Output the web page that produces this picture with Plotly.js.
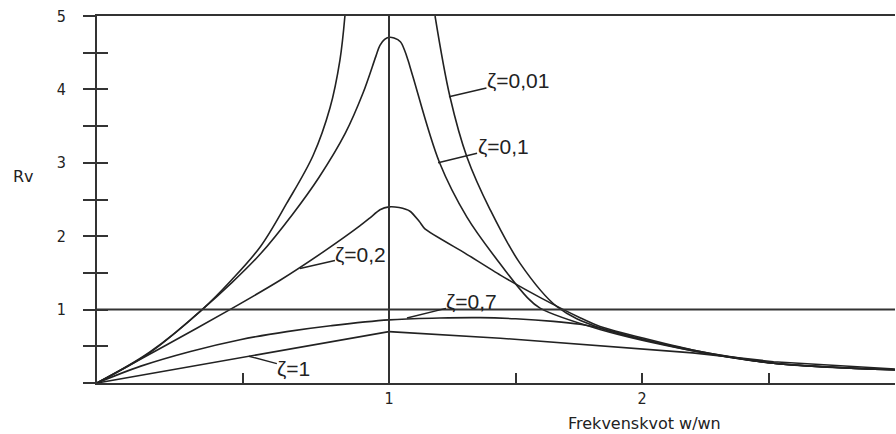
<!DOCTYPE html>
<html>
<head>
<meta charset="utf-8">
<script src="https://cdn.plot.ly/plotly-3.0.1.min.js"></script>
<style>
  html, body { margin: 0; padding: 0; background: #fff; }
  #chart { width: 896px; height: 434px; }
</style>
</head>
<body>
<div id="chart"></div>
<script>
// Frequency response curves Rv against frequency ratio w/wn, one per damping ratio ζ.
const zeta001X = [0, 0.18, 0.36, 0.46, 0.56, 0.65, 0.74, 0.798, 0.832, 0.849, 1.182, 1.241, 1.308, 1.40, 1.518, 1.664, 1.834, 2.2, 2.52, 3.0];
const zeta001Y = [0, 0.42, 1.0, 1.40, 1.86, 2.45, 3.10, 3.75, 4.40, 5.0, 5.0, 3.90, 3.08, 2.36, 1.63, 1.04, 0.75, 0.45, 0.27, 0.18];

const zeta01X = [0, 0.18, 0.36, 0.46, 0.56, 0.67, 0.76, 0.85, 0.911, 0.955, 0.969, 0.985, 1.0, 1.02, 1.045, 1.063, 1.075, 1.095, 1.20, 1.308, 1.427, 1.545, 1.597, 1.834, 2.2, 2.52, 3.0];
const zeta01Y = [0, 0.41, 1.0, 1.36, 1.76, 2.30, 2.80, 3.40, 3.95, 4.45, 4.60, 4.68, 4.71, 4.70, 4.65, 4.52, 4.40, 4.17, 3.0, 2.26, 1.68, 1.17, 1.02, 0.73, 0.44, 0.27, 0.18];

const zeta02X = [0, 0.23, 0.455, 0.627, 0.78, 0.90, 0.935, 0.969, 1.0, 1.04, 1.083, 1.12, 1.142, 1.30, 1.44, 1.60, 1.755, 1.834, 2.2, 2.52, 3.0];
const zeta02Y = [0, 0.50, 1.0, 1.40, 1.80, 2.14, 2.25, 2.36, 2.40, 2.39, 2.34, 2.20, 2.10, 1.77, 1.47, 1.16, 0.89, 0.77, 0.45, 0.27, 0.18];

const zeta07X = [0, 0.15, 0.32, 0.49, 0.65, 0.80, 1.0, 1.2, 1.36, 1.5, 1.65, 1.755, 1.834, 2.0, 2.2, 2.52, 3.0];
const zeta07Y = [0, 0.23, 0.43, 0.59, 0.70, 0.78, 0.86, 0.885, 0.89, 0.875, 0.84, 0.80, 0.75, 0.60, 0.44, 0.27, 0.18];

const zeta1X = [0, 0.5, 1.0, 1.44, 2.2, 2.52, 3.0];
const zeta1Y = [0, 0.35, 0.70, 0.61, 0.41, 0.29, 0.19];

const yTickVals = [0, 0.5, 1, 1.5, 2, 2.5, 3, 3.5, 4, 4.5, 5];
const yTickText = ['', '', '1', '', '2', '', '3', '', '4', '', '5'];
const xTickVals = [1, 1.5, 2, 2.5, 3];
const xTickText = ['1', '', '2', '', '3'];

const INK = '#222';
const AXIS = '#333';
const labelFont = { family: 'Liberation Sans, Arial, sans-serif', size: 21, color: INK };
const tickFont = { family: 'DejaVu Sans Condensed, DejaVu Sans, sans-serif', size: 16, color: INK };
const titleFont = { family: 'DejaVu Sans, sans-serif', size: 16, color: INK };

// The scale below w/wn = 1 is wider than above it, so the x range is drawn
// on two joined axes: [0, 1] on x and [1, 3] on x2.
const split = 292 / 798;

// Points on one side of w/wn = 1; a continuous curve also keeps its first
// point across the seam (clipped away) so the spline runs on without a kink.
function part(xs, ys, left, continuous) {
  const px = [], py = [];
  xs.forEach((x, i) => {
    if (left ? x <= 1 : x >= 1) { px.push(x); py.push(ys[i]); }
  });
  if (continuous) {
    if (left) {
      const j = xs.findIndex(x => x > 1);
      if (j >= 0) { px.push(xs[j]); py.push(ys[j]); }
    } else {
      let j = -1;
      xs.forEach((x, i) => { if (x < 1) j = i; });
      if (j >= 0) { px.unshift(xs[j]); py.unshift(ys[j]); }
    }
  }
  return { x: px, y: py };
}

function curve(xs, ys, shape, smoothing, continuous) {
  const line = { color: INK, width: 1.6, shape: shape };
  if (shape === 'spline') line.smoothing = smoothing;
  const a = part(xs, ys, true, continuous), b = part(xs, ys, false, continuous);
  return [
    { x: a.x, y: a.y, xaxis: 'x', yaxis: 'y', mode: 'lines', line: line, hoverinfo: 'skip' },
    { x: b.x, y: b.y, xaxis: 'x2', yaxis: 'y', mode: 'lines', line: line, hoverinfo: 'skip' }
  ];
}

const traces = [].concat(
  curve(zeta001X, zeta001Y, 'spline', 1.0, false),
  curve(zeta01X, zeta01Y, 'spline', 1.0, true),
  curve(zeta02X, zeta02Y, 'spline', 0.6, true),
  curve(zeta07X, zeta07Y, 'spline', 1.0, true),
  curve(zeta1X, zeta1Y, 'linear', 0, false)
);
// the inner tick marks live on an overlaid copy of the y axis
traces[traces.length - 2].yaxis = 'y2';

function leader(text, xref, x, y, ax, ay) {
  return {
    text: text, xref: xref, yref: 'y', x: x, y: y, ax: ax, ay: ay,
    showarrow: true, arrowhead: 0, arrowwidth: 1.4, arrowcolor: INK,
    standoff: 0, startstandoff: 0, borderpad: 0, font: labelFont
  };
}

const layout = {
  width: 896, height: 434,
  margin: { l: 97, r: 1, t: 16, b: 51 },
  paper_bgcolor: '#fff', plot_bgcolor: '#fff',
  showlegend: false,
  xaxis: {
    domain: [0, split], range: [0, 1], anchor: 'y',
    tickvals: [0.5], ticktext: [''], ticks: 'inside', ticklen: 10, tickwidth: 2, tickcolor: AXIS,
    showline: true, linecolor: AXIS, linewidth: 2, mirror: true,
    showgrid: false, zeroline: false, fixedrange: true
  },
  xaxis2: {
    domain: [split, 1], range: [1, 3], anchor: 'y',
    tickvals: xTickVals, ticktext: xTickText, ticks: 'inside', ticklen: 10, tickwidth: 2, tickcolor: AXIS,
    tickfont: tickFont,
    showline: true, linecolor: AXIS, linewidth: 2, mirror: true,
    showgrid: false, zeroline: false, fixedrange: true
  },
  yaxis: {
    range: [0, 5], anchor: 'x',
    tickvals: yTickVals, ticktext: yTickText, ticks: 'outside', ticklen: 12, tickwidth: 2, tickcolor: AXIS,
    tickfont: tickFont, ticklabelstandoff: 14,
    showline: true, linecolor: AXIS, linewidth: 2,
    showgrid: false, zeroline: false, fixedrange: true
  },
  yaxis2: {
    overlaying: 'y', anchor: 'x', side: 'left', range: [0, 5],
    tickvals: yTickVals, ticks: 'inside', ticklen: 11, tickwidth: 2, tickcolor: AXIS,
    showticklabels: false, showline: false, showgrid: false, zeroline: false, fixedrange: true
  },
  shapes: [
    // reference lines at Rv = 1 and w/wn = 1
    { type: 'line', xref: 'paper', yref: 'y', x0: 0, x1: 1, y0: 1, y1: 1, line: { color: AXIS, width: 2 } },
    { type: 'line', xref: 'paper', yref: 'paper', x0: split, x1: split, y0: 0, y1: 1, line: { color: AXIS, width: 2 } }
  ],
  annotations: [
    leader('ζ=0,01', 'x2', 1.237, 3.90, 69, -16),
    leader('ζ=0,1', 'x2', 1.194, 3.0, 65, -16),
    leader('ζ=0,2', 'x', 0.695, 1.56, 61, -14),
    leader('ζ=0,7', 'x2', 1.071, 0.886, 65, -16),
    leader('ζ=1', 'x', 0.52, 0.365, 45, 12),
    { text: 'Rv', xref: 'paper', yref: 'y', x: 0, y: 2.81, xshift: -86, showarrow: false, font: titleFont },
    { text: 'Frekvenskvot w/wn', xref: 'x2', yref: 'paper', x: 2.01, y: 0, yshift: -40, yanchor: 'middle', showarrow: false, font: titleFont }
  ]
};

Plotly.newPlot('chart', traces, layout, { staticPlot: true, displayModeBar: false });
</script>
</body>
</html>
